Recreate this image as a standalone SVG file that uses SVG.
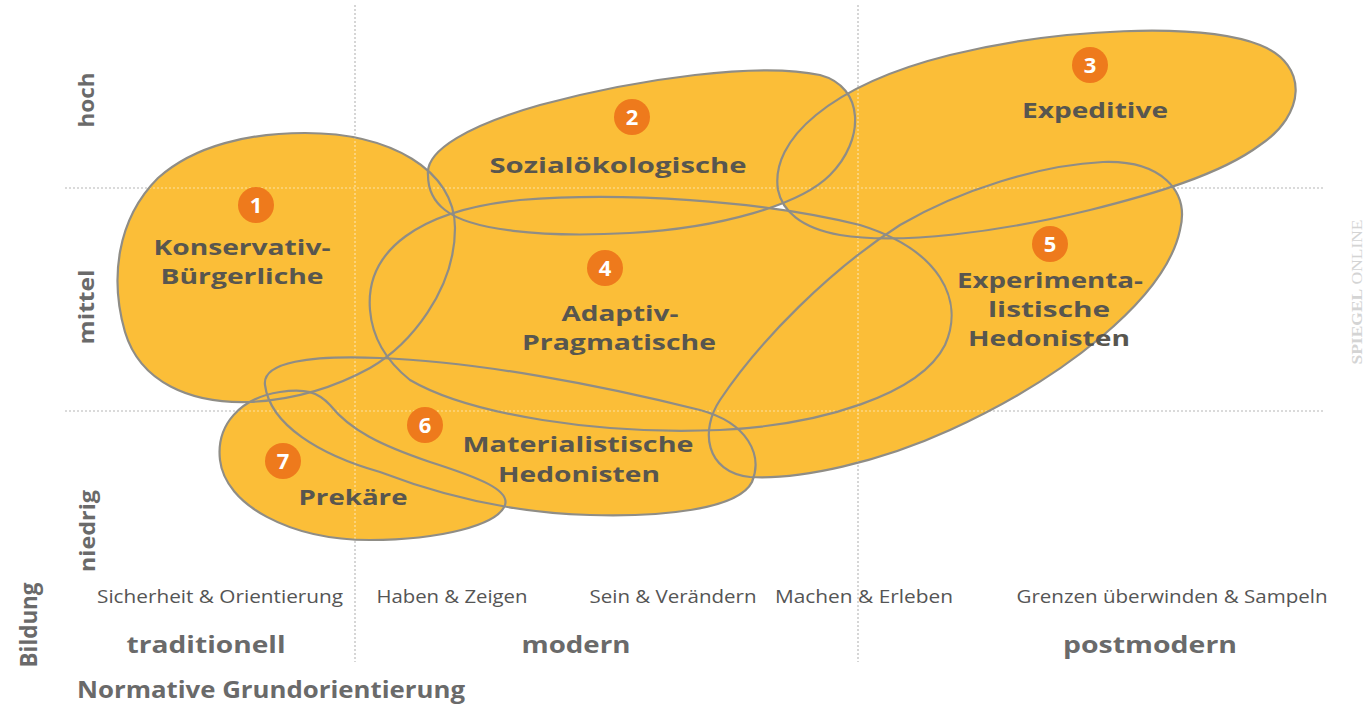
<svg xmlns="http://www.w3.org/2000/svg" width="1371" height="704" viewBox="0 0 1371 704">
<style>
.bg{fill:#ffffff}
.fill{fill:#FBBE38;stroke:none}
.edge{fill:none;stroke:#8f8d86;stroke-width:2.2}
.gridU{stroke:#9a9a9a;stroke-width:1.2;stroke-dasharray:2 2;fill:none}
.gridO{stroke:#ffffff;stroke-opacity:0.55;stroke-width:1.2;stroke-dasharray:2 2;fill:none}
.badge{fill:#EE7A1C}
.num{font-family:"Open Sans","DejaVu Sans",sans-serif;font-weight:700;font-size:22px;fill:#ffffff;text-anchor:middle}
.lbl{font-family:"Open Sans","DejaVu Sans",sans-serif;font-weight:700;font-size:22px;fill:#58564f;text-anchor:middle}
.axis{font-family:"Open Sans","DejaVu Sans",sans-serif;font-weight:700;font-size:22px;fill:#6a6a6a;text-anchor:middle}
.cat{font-family:"Open Sans","Liberation Sans",sans-serif;font-weight:400;font-size:18px;fill:#555555;text-anchor:middle}
.grp{font-family:"Open Sans","DejaVu Sans",sans-serif;font-weight:700;font-size:23px;fill:#6a6a6a;text-anchor:middle}
.wm{font-family:"Liberation Serif",serif;font-size:15px;fill:#d4d4d4;text-anchor:middle}
</style>
<rect class="bg" x="0" y="0" width="1371" height="704"/>

<g id="grid-under">
<line class="gridU" x1="65" y1="188" x2="1325" y2="188"/>
<line class="gridU" x1="65" y1="411" x2="1325" y2="411"/>
<line class="gridU" x1="355" y1="5" x2="355" y2="662"/>
<line class="gridU" x1="858" y1="5" x2="858" y2="662"/>
</g>

<defs>
<path id="p1" d="M 305,133 C 390,133 455,170 455,228 C 455,290 410,345 370,368 C 330,390 290,400 250,402 C 190,404 140,382 125,332 C 110,280 116,220 158,178 C 195,145 250,133 305,133 Z"/>
<path id="p2" d="M 428,175 C 425,150 470,125 540,105 C 640,78 760,62 820,75 C 865,87 865,140 830,175 C 800,205 720,228 630,233 C 540,238 470,230 445,210 C 432,200 428,188 428,175 Z"/>
<path id="p3" d="M 778,190 C 770,140 830,85 950,55 C 1060,28 1200,22 1260,45 C 1310,65 1305,115 1260,145 C 1220,175 1150,195 1090,210 C 1000,232 900,245 840,235 C 800,228 782,210 778,190 Z"/>
<path id="p4" d="M 370,310 C 365,250 420,210 520,200 C 620,192 760,200 860,225 C 940,250 965,300 945,345 C 920,395 820,425 720,430 C 600,435 470,415 410,380 C 385,360 372,335 370,310 Z"/>
<path id="p5" d="M 1103,162 C 1160,160 1190,190 1180,230 C 1165,300 1060,380 950,430 C 880,462 800,480 750,477 C 705,472 700,430 720,400 C 760,340 830,270 900,225 C 960,190 1040,165 1103,162 Z"/>
<path id="p6" d="M 265,385 C 262,362 310,355 380,358 C 480,362 600,385 700,410 C 748,423 763,455 752,482 C 738,510 660,517 590,515 C 510,513 440,495 380,472 C 320,455 270,425 265,385 Z"/>
<path id="p7" d="M 220,460 C 216,425 240,398 280,392 C 305,388 318,392 330,405 C 350,430 380,445 430,462 C 480,478 510,490 505,505 C 498,525 440,540 370,540 C 290,540 225,505 220,460 Z"/>
</defs>

<g id="fills">
<use href="#p1" class="fill"/>
<use href="#p2" class="fill"/>
<use href="#p3" class="fill"/>
<use href="#p4" class="fill"/>
<use href="#p5" class="fill"/>
<use href="#p6" class="fill"/>
<use href="#p7" class="fill"/>
</g>

<g id="grid-over">
<line class="gridO" x1="65" y1="188" x2="1325" y2="188"/>
<line class="gridO" x1="65" y1="411" x2="1325" y2="411"/>
<line class="gridO" x1="355" y1="5" x2="355" y2="662"/>
<line class="gridO" x1="858" y1="5" x2="858" y2="662"/>
</g>

<g id="outlines">
<use href="#p1" class="edge"/>
<use href="#p2" class="edge"/>
<use href="#p3" class="edge"/>
<use href="#p4" class="edge"/>
<use href="#p5" class="edge"/>
<use href="#p6" class="edge"/>
<use href="#p7" class="edge"/>
</g>

<g id="node1">
<circle class="badge" cx="256" cy="205" r="18"/>
<text class="num" x="256" y="213">1</text>
<text class="lbl" x="242" y="255" textLength="177" lengthAdjust="spacingAndGlyphs">Konservativ-</text>
<text class="lbl" x="242" y="284" textLength="163" lengthAdjust="spacingAndGlyphs">Bürgerliche</text>
</g>
<g id="node2">
<circle class="badge" cx="632" cy="117" r="18"/>
<text class="num" x="632" y="125">2</text>
<text class="lbl" x="618" y="173" textLength="257" lengthAdjust="spacingAndGlyphs">Sozialökologische</text>
</g>
<g id="node3">
<circle class="badge" cx="1090" cy="65" r="18"/>
<text class="num" x="1090" y="73">3</text>
<text class="lbl" x="1095" y="118" textLength="146" lengthAdjust="spacingAndGlyphs">Expeditive</text>
</g>
<g id="node4">
<circle class="badge" cx="605" cy="268" r="18"/>
<text class="num" x="605" y="276">4</text>
<text class="lbl" x="620" y="321" textLength="117" lengthAdjust="spacingAndGlyphs">Adaptiv-</text>
<text class="lbl" x="619" y="350" textLength="194" lengthAdjust="spacingAndGlyphs">Pragmatische</text>
</g>
<g id="node5">
<circle class="badge" cx="1050" cy="244" r="18"/>
<text class="num" x="1050" y="252">5</text>
<text class="lbl" x="1050" y="288" textLength="186" lengthAdjust="spacingAndGlyphs">Experimenta-</text>
<text class="lbl" x="1049" y="317" textLength="122" lengthAdjust="spacingAndGlyphs">listische</text>
<text class="lbl" x="1049" y="346" textLength="162" lengthAdjust="spacingAndGlyphs">Hedonisten</text>
</g>
<g id="node6">
<circle class="badge" cx="425" cy="425" r="18"/>
<text class="num" x="425" y="433">6</text>
<text class="lbl" x="578" y="452" textLength="231" lengthAdjust="spacingAndGlyphs">Materialistische</text>
<text class="lbl" x="579" y="482" textLength="162" lengthAdjust="spacingAndGlyphs">Hedonisten</text>
</g>
<g id="node7">
<circle class="badge" cx="283" cy="461" r="18"/>
<text class="num" x="283" y="469">7</text>
<text class="lbl" x="353" y="505" textLength="109" lengthAdjust="spacingAndGlyphs">Prekäre</text>
</g>

<g id="axes">
<text class="axis" transform="translate(94,100) rotate(-90)" textLength="55" lengthAdjust="spacingAndGlyphs">hoch</text>
<text class="axis" transform="translate(94,307) rotate(-90)" textLength="75" lengthAdjust="spacingAndGlyphs">mittel</text>
<text class="axis" transform="translate(95,531) rotate(-90)" textLength="82" lengthAdjust="spacingAndGlyphs">niedrig</text>
<text class="axis" style="font-size:24px" transform="translate(37,625) rotate(-90)" textLength="85" lengthAdjust="spacingAndGlyphs">Bildung</text>
<text class="cat" x="220" y="603" textLength="246" lengthAdjust="spacingAndGlyphs">Sicherheit &amp; Orientierung</text>
<text class="cat" x="452" y="603" textLength="151" lengthAdjust="spacingAndGlyphs">Haben &amp; Zeigen</text>
<text class="cat" x="673" y="603" textLength="167" lengthAdjust="spacingAndGlyphs">Sein &amp; Verändern</text>
<text class="cat" x="864" y="603" textLength="178" lengthAdjust="spacingAndGlyphs">Machen &amp; Erleben</text>
<text class="cat" x="1172" y="603" textLength="311" lengthAdjust="spacingAndGlyphs">Grenzen überwinden &amp; Sampeln</text>
<text class="grp" x="206" y="653" textLength="159" lengthAdjust="spacingAndGlyphs">traditionell</text>
<text class="grp" x="576" y="653" textLength="109" lengthAdjust="spacingAndGlyphs">modern</text>
<text class="grp" x="1150" y="653" textLength="174" lengthAdjust="spacingAndGlyphs">postmodern</text>
<text class="grp" x="271" y="698" textLength="388" lengthAdjust="spacingAndGlyphs">Normative Grundorientierung</text>
</g>

<g id="watermark">
<text class="wm" transform="translate(1362,292) rotate(-90)" textLength="145" lengthAdjust="spacingAndGlyphs"><tspan font-weight="700">SPIEGEL</tspan> ONLINE</text>
</g>
</svg>
